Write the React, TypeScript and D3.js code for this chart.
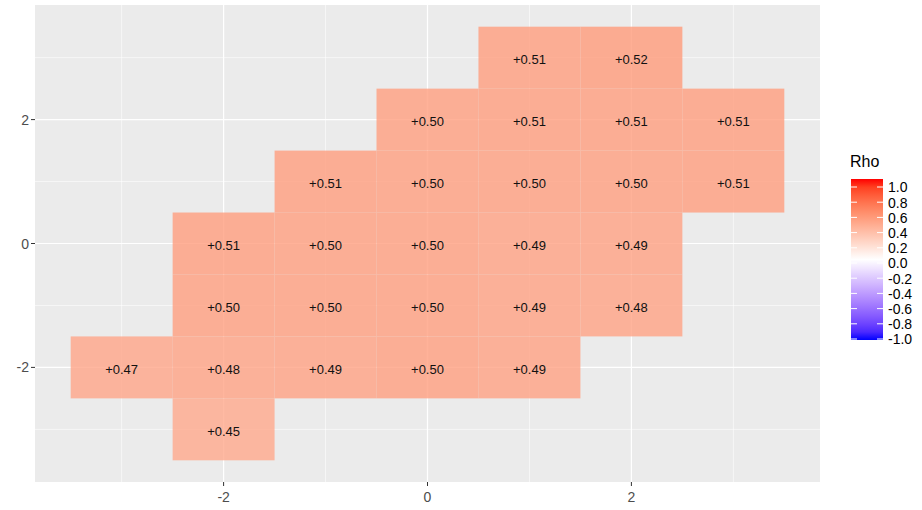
import * as d3 from 'd3';

// tile positions and correlation values
const tileX = [1, 2, 0, 1, 2, 3, -1, 0, 1, 2, 3, -2, -1, 0, 1, 2, -2, -1, 0, 1, 2, -3, -2, -1, 0, 1, -2];
const tileY = [3, 3, 2, 2, 2, 2, 1, 1, 1, 1, 1, 0, 0, 0, 0, 0, -1, -1, -1, -1, -1, -2, -2, -2, -2, -2, -3];
const rho = [0.51, 0.52, 0.50, 0.51, 0.51, 0.51, 0.51, 0.50, 0.50, 0.50, 0.51, 0.51, 0.50, 0.50, 0.49, 0.49,
  0.50, 0.50, 0.50, 0.49, 0.48, 0.47, 0.48, 0.49, 0.50, 0.49, 0.45];

const majorTicks = [-2, 0, 2];
const minorTicks = [-3, -1, 1, 3];
const legendTicks = [1.0, 0.8, 0.6, 0.4, 0.2, 0.0, -0.2, -0.4, -0.6, -0.8, -1.0];

const W = 922;
const H = 510;
const panel = { left: 35, right: 820, top: 5, bottom: 482 };
const font = '"Liberation Sans", Arial, sans-serif';

// ggplot-like diverging fill: blue - white - red in Lab
const upper = d3.interpolateLab('white', 'red');
const lower = d3.interpolateLab('white', 'blue');
const fill = (v: number) => (v >= 0 ? upper(v) : lower(-v));

export default function App() {
  const x = d3.scaleLinear().domain([-3.85, 3.85]).range([panel.left, panel.right]);
  const y = d3.scaleLinear().domain([-3.85, 3.85]).range([panel.bottom, panel.top]);
  const cw = x(0.5) - x(-0.5);
  const ch = y(-0.5) - y(0.5);

  // legend
  const bar = { x: 851, w: 32, top: 179, bottom: 340 };
  const ly = d3.scaleLinear().domain([-1, 1]).range([339, 187]);
  const stops = d3.range(0, 21).map(i => -1 + i * 0.1);

  return (
    <svg width={W} height={H} style={{ position: 'absolute', left: 0, top: 0, background: '#fff' }}
      fontFamily={font}>
      <defs>
        <linearGradient id="rhoGrad" x1="0" y1="1" x2="0" y2="0">
          {stops.map((s, i) => (
            <stop key={i} offset={(s + 1) / 2} stopColor={fill(s)} />
          ))}
        </linearGradient>
      </defs>
      <rect x={panel.left} y={panel.top} width={panel.right - panel.left}
        height={panel.bottom - panel.top} fill="#EBEBEB" />
      {minorTicks.map(t => (
        <g key={'m' + t}>
          <line x1={x(t)} x2={x(t)} y1={panel.top} y2={panel.bottom} stroke="#fff" strokeWidth={0.6} />
          <line x1={panel.left} x2={panel.right} y1={y(t)} y2={y(t)} stroke="#fff" strokeWidth={0.6} />
        </g>
      ))}
      {majorTicks.map(t => (
        <g key={'M' + t}>
          <line x1={x(t)} x2={x(t)} y1={panel.top} y2={panel.bottom} stroke="#fff" strokeWidth={1.2} />
          <line x1={panel.left} x2={panel.right} y1={y(t)} y2={y(t)} stroke="#fff" strokeWidth={1.2} />
        </g>
      ))}
      {rho.map((v, i) => (
        <rect key={'t' + i} x={x(tileX[i] - 0.5)} y={y(tileY[i] + 0.5)} width={cw} height={ch}
          fill={fill(v)} fillOpacity={0.8} />
      ))}
      {rho.map((v, i) => (
        <text key={'l' + i} x={x(tileX[i])} y={y(tileY[i]) + 2} dy="0.35em" textAnchor="middle"
          fontSize={13} fill="#111">{'+' + v.toFixed(2)}</text>
      ))}
      {majorTicks.map(t => (
        <g key={'ax' + t}>
          <line x1={x(t)} x2={x(t)} y1={panel.bottom} y2={panel.bottom + 4} stroke="#333" strokeWidth={1} />
          <text x={x(t)} y={panel.bottom + 20} textAnchor="middle" fontSize={14} fill="#4D4D4D">
            {t < 0 ? '-' + Math.abs(t) : String(t)}
          </text>
          <line x1={panel.left - 4} x2={panel.left} y1={y(t)} y2={y(t)} stroke="#333" strokeWidth={1} />
          <text x={panel.left - 6} y={y(t)} dy="0.36em" textAnchor="end" fontSize={14} fill="#4D4D4D">
            {t < 0 ? '-' + Math.abs(t) : String(t)}
          </text>
        </g>
      ))}
      <text x={bar.x - 1} y={167} fontSize={16} fill="#000">Rho</text>
      <rect x={bar.x} y={bar.top} width={bar.w} height={bar.bottom - bar.top} fill="url(#rhoGrad)" />
      {legendTicks.map(t => (
        <g key={'lg' + t}>
          <line x1={bar.x} x2={bar.x + 6} y1={ly(t)} y2={ly(t)} stroke="#fff" strokeWidth={1} />
          <line x1={bar.x + bar.w - 6} x2={bar.x + bar.w} y1={ly(t)} y2={ly(t)} stroke="#fff" strokeWidth={1} />
          <text x={bar.x + bar.w + 5} y={ly(t)} dy="0.38em" fontSize={14} fill="#000">{t.toFixed(1)}</text>
        </g>
      ))}
    </svg>
  );
}
